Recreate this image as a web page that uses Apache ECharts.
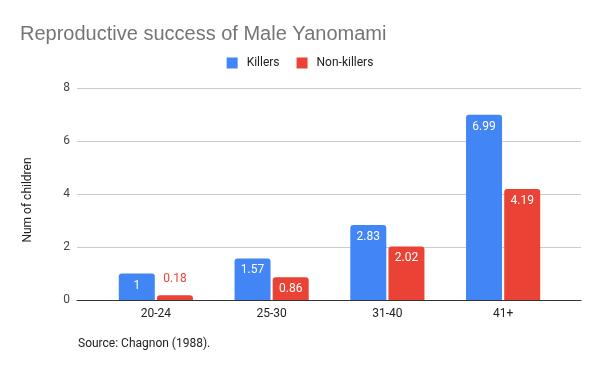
<!DOCTYPE html>
<html><head><meta charset="utf-8">
<script src="https://cdn.jsdelivr.net/npm/echarts@6/dist/echarts.min.js"></script>
<style>html,body{margin:0;padding:0;background:#fff}#c{width:600px;height:371px}</style>
</head><body><div id="c"></div>
<script>
const categories = ['20-24', '25-30', '31-40', '41+'];
const killers = [1, 1.57, 2.83, 6.99];
const nonKillers = [0.18, 0.86, 2.02, 4.19];
const yTicks = [0, 2, 4, 6, 8];

const F = 'Roboto, Arial, sans-serif';
const chart = echarts.init(document.getElementById('c'), null, {renderer: 'canvas'});
const nk = nonKillers.map(v => v < 0.5
  ? {value: v, label: {position: 'top', distance: 10, color: '#ea4335'}}
  : v);
chart.setOption({
  animation: false,
  backgroundColor: '#fff',
  title: [
    {text: 'Reproductive success of Male Yanomami', left: 15, top: 19,
     textStyle: {fontFamily: '"Liberation Sans", Arial, sans-serif', fontSize: 20, fontWeight: 'normal', color: '#757575'}},
    {text: 'Source: Chagnon (1988).', left: 73, top: 333,
     textStyle: {fontFamily: F, fontSize: 12, fontWeight: 'normal', color: '#222'}}
  ],
  legend: {
    top: 52, left: 'center', itemWidth: 11, itemHeight: 11, itemGap: 17,
    icon: 'rect',
    textStyle: {fontFamily: F, fontSize: 12, color: '#222', padding: [0, 0, 0, 4]},
    data: ['Killers', 'Non-killers']
  },
  grid: [
    {left: 77, right: 19, top: 88, bottom: 71},
    {left: 98, right: 39, top: 88, bottom: 71}
  ],
  xAxis: [
    {gridIndex: 0, type: 'value', min: 0, max: 1, axisLabel: {show: false},
     splitLine: {show: false}, axisTick: {show: false},
     axisLine: {show: true, onZero: false, lineStyle: {color: '#333', width: 1}}},
    {gridIndex: 1, type: 'category', data: categories,
     axisLine: {show: false}, axisTick: {show: false},
     axisLabel: {margin: 8, fontFamily: F, fontSize: 12, color: '#222'}}
  ],
  yAxis: [
    {gridIndex: 0, type: 'value', min: yTicks[0], max: yTicks[yTicks.length - 1], interval: 2,
     name: 'Num of children', nameLocation: 'middle', nameGap: 43, nameRotate: 90,
     nameTextStyle: {fontFamily: F, fontSize: 12, color: '#222', padding: [0, 12, 0, 0]},
     axisLine: {show: false}, axisTick: {show: false},
     axisLabel: {margin: 7, fontFamily: F, fontSize: 12, color: '#444'},
     splitLine: {lineStyle: {color: '#ccc', width: 1}}},
    {gridIndex: 1, type: 'value', min: yTicks[0], max: yTicks[yTicks.length - 1], interval: 2,
     show: false, splitLine: {show: false}}
  ],
  series: [
    {name: 'Killers', type: 'bar', xAxisIndex: 1, yAxisIndex: 1, data: killers,
     barWidth: 36, barGap: '6%', itemStyle: {color: '#4285f4', borderRadius: [3, 3, 0, 0]},
     label: {show: true, position: 'insideTop', distance: 6, color: '#fff', fontFamily: F, fontSize: 12}},
    {name: 'Non-killers', type: 'bar', xAxisIndex: 1, yAxisIndex: 1, data: nk,
     barWidth: 36, barGap: '6%', itemStyle: {color: '#ea4335', borderRadius: [3, 3, 0, 0]},
     label: {show: true, position: 'insideTop', distance: 6, color: '#fff', fontFamily: F, fontSize: 12}}
  ]
});
</script></body></html>
